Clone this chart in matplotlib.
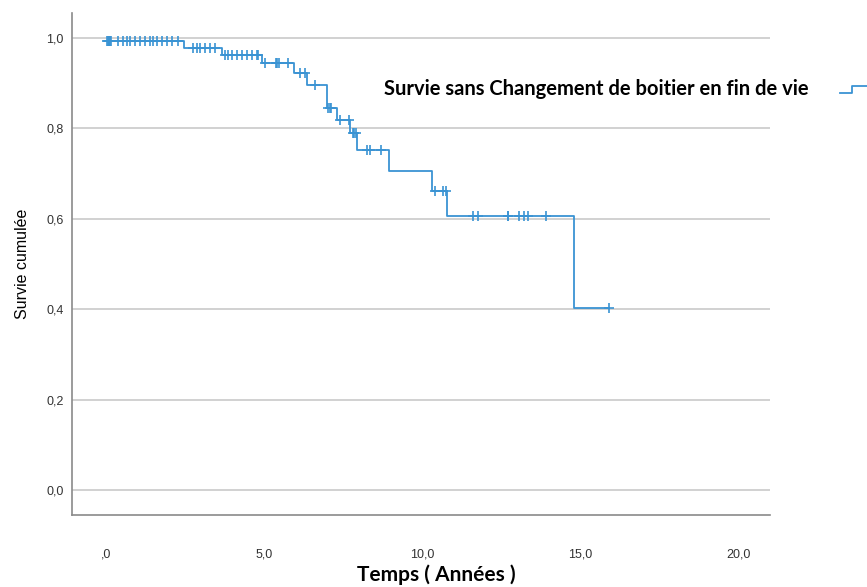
import numpy as np
import matplotlib
matplotlib.use("Agg")
import matplotlib.pyplot as plt
from matplotlib.ticker import FuncFormatter
from matplotlib.lines import Line2D

# Kaplan-Meier step curve: event times and survival after each step
start_surv = 0.993
event_times = [2.45, 3.67, 4.94, 5.95, 6.36, 7.00, 7.30, 7.72, 7.95, 8.95, 10.30, 10.80, 14.80]
event_surv = [0.977, 0.963, 0.944, 0.922, 0.897, 0.845, 0.819, 0.790, 0.752, 0.706, 0.662, 0.606, 0.403]
end_time = 15.92

# censored observations (times)
censor_times = [0.02, 0.05, 0.08, 0.10, 0.13, 0.16, 0.38, 0.54, 0.66, 0.76, 0.92, 1.08, 1.23,
                1.39, 1.49, 1.61, 1.77, 1.93, 2.09, 2.28,
                2.75, 2.88, 2.97, 3.13, 3.29, 3.45,
                3.77, 3.86, 3.99, 4.15, 4.30, 4.46, 4.62, 4.78, 4.81,
                5.03, 5.36, 5.41, 5.46, 5.76,
                6.14, 6.30, 6.60,
                7.03, 7.08, 7.13, 7.40, 7.68,
                7.80, 7.85, 7.90, 8.25, 8.35, 8.70,
                10.40, 10.65, 10.75,
                11.60, 11.77, 12.70, 12.73, 13.07, 13.23, 13.35, 13.92,
                15.92]

y_ticks = [0.0, 0.2, 0.4, 0.6, 0.8, 1.0]
x_ticks = [0, 5, 10, 15, 20]
legend_label = "Survie sans Changement de boitier en fin de vie"

BLUE = "#3a93d3"

fig = plt.figure(figsize=(8.67, 5.87), dpi=100)
ax = fig.add_axes([0.083, 0.1227, 0.805, 0.855])

# step curve
xs = [0.0] + event_times + [end_time]
ys = [start_surv] + event_surv + [event_surv[-1]]
ax.step(xs, ys, where="post", color=BLUE, lw=1.3, zorder=3)

# censor marks on the step function
all_t = np.array([0.0] + event_times)
all_s = np.array([start_surv] + event_surv)
idx = np.searchsorted(all_t, censor_times, side="right") - 1
ax.plot(censor_times, all_s[idx], ls="none", marker="+", ms=7.5, mew=1.2,
        color=BLUE, zorder=4)

ax.set_xlim(-1.08, 21.0)
ax.set_ylim(-0.055, 1.055)
ax.set_yticks(y_ticks)
ax.set_xticks(x_ticks)
ax.yaxis.grid(True, color="#c9c9c9", lw=1.2)
ax.set_axisbelow(True)

ax.yaxis.set_major_formatter(FuncFormatter(lambda v, p: f"{v:.1f}".replace(".", ",")))
ax.xaxis.set_major_formatter(FuncFormatter(
    lambda v, p: ",0" if v == 0 else f"{v:.1f}".replace(".", ",")))

for s in ("top", "right"):
    ax.spines[s].set_visible(False)
for s in ("left", "bottom"):
    ax.spines[s].set_color("#8a8a8a")
    ax.spines[s].set_linewidth(1.2)

ax.tick_params(axis="both", length=0, labelsize=9, labelcolor="#333333")
ax.tick_params(axis="x", pad=24)
ax.tick_params(axis="y", pad=6)
for lab in ax.get_xticklabels() + ax.get_yticklabels():
    lab.set_family("Liberation Sans")

ax.set_ylabel("Survie cumulée", fontsize=11.5, family="Liberation Sans", labelpad=12)
fig.text(0.503, 0.021, "Temps ( Années )", fontsize=15, family="Lato",
         fontweight="bold", ha="center", va="center")

# legend (outside the axes, to the right)
fig.text(0.443, 0.848, legend_label, fontsize=14.5, family="Lato",
         fontweight="bold", va="center", ha="left")
fig.add_artist(Line2D([0.969, 0.983, 0.983, 1.0], [0.842, 0.842, 0.853, 0.853],
                      transform=fig.transFigure, color=BLUE, lw=1.3))

fig.savefig("out.png", dpi=100)
